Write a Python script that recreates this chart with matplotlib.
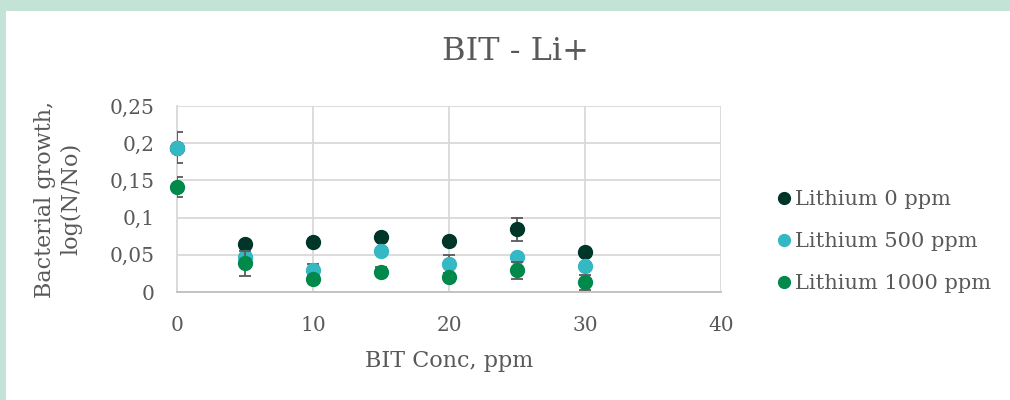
import matplotlib.pyplot as plt
from matplotlib.patches import Rectangle

# data
conc = [0, 5, 10, 15, 20, 25, 30]
li_0 = [0.194, 0.0645, 0.0676, 0.0735, 0.0685, 0.0845, 0.054]
li_0_err = [0.021, 0.004, 0.004, 0.003, 0.003, 0.0155, 0.003]
li_500 = [0.194, 0.0475, 0.0296, 0.0555, 0.0376, 0.047, 0.0354]
li_500_err = [0.004, 0.004, 0.008, 0.003, 0.012, 0.003, 0.004]
li_1000 = [0.1407, 0.0385, 0.017, 0.0273, 0.0206, 0.029, 0.013]
li_1000_err = [0.0135, 0.017, 0.004, 0.006, 0.003, 0.0115, 0.01]

labels = ['Lithium 0 ppm', 'Lithium 500 ppm', 'Lithium 1000 ppm']
colors = ['#00352a', '#33b8c4', '#00894b']
yticks = [0, 0.05, 0.1, 0.15, 0.2, 0.25]
ytick_labels = ['0', '0,05', '0,1', '0,15', '0,2', '0,25']
xticks = [0, 10, 20, 30, 40]

plt.rcParams['font.family'] = ['DejaVu Serif']
txt = '#595959'

fig = plt.figure(figsize=(10.1, 4.0), dpi=100)
fig.patches.append(Rectangle((0, 1 - 11 / 400), 1, 11 / 400, transform=fig.transFigure,
                             facecolor='#c2e3d5', edgecolor='none', zorder=0))
fig.patches.append(Rectangle((0, 0), 6 / 1010, 1, transform=fig.transFigure,
                             facecolor='#c2e3d5', edgecolor='none', zorder=0))

ax = fig.add_axes([177 / 1010, 1 - 292 / 400, (721 - 177) / 1010, (292 - 106) / 400])

series = [(li_0, li_0_err), (li_500, li_500_err), (li_1000, li_1000_err)]
for i, (vals, errs) in enumerate(series):
    ax.errorbar(conc, vals, yerr=errs, fmt='none', ecolor='#595959', elinewidth=1.3,
                capsize=4, capthick=1.3, zorder=3 + 2 * i)
    ax.plot(conc, vals, 'o', color=colors[i], markersize=10, label=labels[i],
            zorder=4 + 2 * i, clip_on=False)

ax.set_xlim(0, 40)
ax.set_ylim(0, 0.25)
ax.set_xticks(xticks)
ax.set_yticks(yticks)
ax.set_yticklabels(ytick_labels)
ax.grid(True, color='#d9d9d9', linewidth=1.3)
ax.set_axisbelow(True)
for s in ['top', 'right']:
    ax.spines[s].set_visible(False)
ax.spines['left'].set_color('#d9d9d9')
ax.spines['bottom'].set_color('#bfbfbf')
ax.spines['left'].set_linewidth(1.3)
ax.spines['bottom'].set_linewidth(1.3)
ax.tick_params(length=0, labelsize=14.5, colors=txt)
ax.tick_params(axis='x', pad=17)
ax.tick_params(axis='y', pad=16)

fig.text(0.51, 1 - 52 / 400, 'BIT - Li+', fontsize=23, color=txt, ha='center', va='center')
ax.set_xlabel('BIT Conc, ppm', fontsize=16, color=txt, labelpad=11)
ax.set_ylabel('Bacterial growth,\nlog(N/No)', fontsize=16, color=txt, labelpad=20)

ax.legend(loc='center left', bbox_to_anchor=(1.062, 0.27), frameon=False,
          fontsize=15, labelcolor=txt, handletextpad=0.05, labelspacing=1.1,
          handlelength=1.0, markerscale=0.85)

fig.savefig('out.png', dpi=100)
